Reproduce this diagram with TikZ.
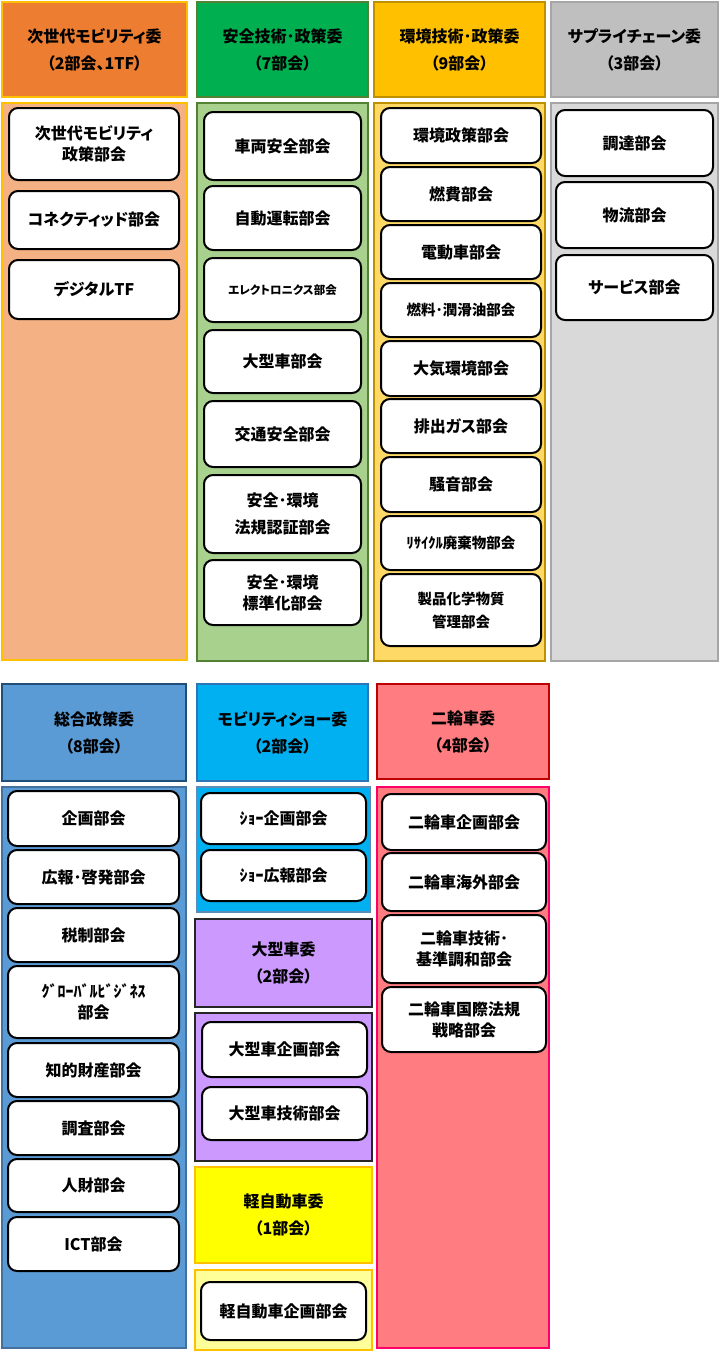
\documentclass[tikz,border=0pt]{standalone}
\usepackage{fontspec}
\setmainfont{Noto Sans CJK JP}[RawFeature=+palt]
\usepackage{xcolor}
\usepackage{tikz}
\definecolor{orgH}{HTML}{ED7D31}
\definecolor{orgB}{HTML}{F4B183}
\definecolor{orgL}{HTML}{FFC000}
\definecolor{grnH}{HTML}{00B050}
\definecolor{grnB}{HTML}{A9D18E}
\definecolor{grnL}{HTML}{548235}
\definecolor{ylwH}{HTML}{FFC000}
\definecolor{ylwB}{HTML}{FFD966}
\definecolor{ylwL}{HTML}{BF9000}
\definecolor{gryH}{HTML}{BFBFBF}
\definecolor{gryB}{HTML}{D9D9D9}
\definecolor{gryL}{HTML}{A6A6A6}
\definecolor{bluH}{HTML}{5B9BD5}
\definecolor{bluL}{HTML}{1F4E79}
\definecolor{bluBL}{HTML}{41719C}
\definecolor{cyaH}{HTML}{00B0F0}
\definecolor{cyaL}{HTML}{2E75B6}
\definecolor{cyaBL}{HTML}{5B8DB8}
\definecolor{purH}{HTML}{CC99FF}
\definecolor{purL}{HTML}{262626}
\definecolor{keiH}{HTML}{FFFF00}
\definecolor{keiB}{HTML}{FFFF99}
\definecolor{keiL}{HTML}{FFC000}
\definecolor{pnkH}{HTML}{FF7C80}
\definecolor{pnkL}{HTML}{C00000}
\definecolor{pnkBL}{HTML}{FF0066}
\tikzset{
  comhead/.style={draw, line width=1.8pt, align=center, inner sep=0pt,
    font=\fontsize{16}{27}\selectfont\bfseries},
  companel/.style={draw, line width=1.6pt, inner sep=0pt},
  sub/.style={draw=black, fill=white, line width=2pt, rounded corners=9pt,
    align=center, inner sep=0pt},
  lab/.style={font=\fontsize{16}{21}\selectfont\bfseries},
  labs/.style={font=\fontsize{14.5}{23}\selectfont\bfseries},
  labx/.style={font=\fontsize{11.5}{14}\selectfont\bfseries},
}
\begin{document}
\begin{tikzpicture}[x=1pt,y=-1pt]
  \useasboundingbox (0,0) rectangle (720,1354);

  % upper row: headers and panels
  \node[comhead, fill=orgH, draw=orgL, minimum width=185, minimum height=95] (hnext) at (94.5,49.5) {次世代モビリティ委\\（2部会、1TF）};
  \node[companel, fill=orgB, draw=orgL, minimum width=185, minimum height=557] (pnext) at (94.5,381.5) {};
  \node[comhead, fill=grnH, draw=grnL, minimum width=171, minimum height=95] (hsafe) at (282.5,49.5) {安全技術･政策委\\（7部会）};
  \node[companel, fill=grnB, draw=grnL, minimum width=171, minimum height=558] (psafe) at (282.5,382) {};
  \node[comhead, fill=ylwH, draw=ylwL, minimum width=171, minimum height=95] (henv) at (459.5,49.5) {環境技術･政策委\\（9部会）};
  \node[companel, fill=ylwB, draw=ylwL, minimum width=171, minimum height=558] (penv) at (459.5,382) {};
  \node[comhead, fill=gryH, draw=gryL, minimum width=167, minimum height=95] (hsup) at (634.5,49.5) {サプライチェーン委\\（3部会）};
  \node[companel, fill=gryB, draw=gryL, minimum width=167, minimum height=558] (psup) at (634.5,382) {};

  % upper row: sub committees
  \foreach \n/\y/\h/\f/\t in {1/144/72/lab/{次世代モビリティ\\政策部会},
    2/220/58/lab/{コネクティッド部会}, 3/289.5/59/lab/{デジタルTF}}{
    \node[sub, \f, minimum width=170, minimum height=\h] (a\n) at (94,\y) {\t};
  }
  \foreach \n/\y/\h/\f/\t in {1/146/68/lab/{車両安全部会}, 2/218/64/lab/{自動運転部会},
    3/290/64/labx/{エレクトロニクス部会}, 4/361.5/63/lab/{大型車部会},
    5/434/66/lab/{交通安全部会}, 6/514/78/lab/{安全･環境\\[6pt]法規認証部会},
    7/592.5/65/lab/{安全･環境\\標準化部会}}{
    \node[sub, \f, minimum width=157, minimum height=\h] (b\n) at (282.5,\y) {\t};
  }
  \foreach \n/\y/\h/\f/\t in {1/135.5/55/lab/{環境政策部会}, 2/194/54/lab/{燃費部会},
    3/252/54/lab/{電動車部会}, 4/310/54/labs/{燃料･潤滑油部会},
    5/368.5/55/lab/{大気環境部会}, 6/426/54/lab/{排出ガス部会},
    7/484.5/55/lab/{騒音部会}, 8/543/54/labs/{ﾘｻｲｸﾙ廃棄物部会},
    9/610/72/labs/{製品化学物質\\管理部会}}{
    \node[sub, \f, minimum width=160, minimum height=\h] (c\n) at (461,\y) {\t};
  }
  \foreach \n/\y/\h/\f/\t in {1/143/66/lab/{調達部会}, 2/215/66/lab/{物流部会},
    3/287.5/65/lab/{サービス部会}}{
    \node[sub, \f, minimum width=157, minimum height=\h] (d\n) at (634.5,\y) {\t};
  }

  % lower row: headers and panels
  \node[comhead, fill=bluH, draw=bluL, minimum width=184, minimum height=97] (hpol) at (94,732.5) {総合政策委\\（8部会）};
  \node[companel, fill=bluH, draw=bluBL, minimum width=184, minimum height=561] (ppol) at (94,1067.5) {};
  \node[comhead, fill=cyaH, draw=cyaL, minimum width=171, minimum height=97] (hshow) at (282.5,732.5) {モビリティショー委\\（2部会）};
  \node[companel, fill=cyaH, draw=cyaBL, minimum width=173, minimum height=125] (pshow) at (283.5,849.5) {};
  \node[comhead, fill=purH, draw=purL, line width=2.2pt, minimum width=177, minimum height=88] (hbig) at (283.5,963) {大型車委\\（2部会）};
  \node[companel, fill=purH, draw=purL, line width=2.2pt, minimum width=177, minimum height=148] (pbig) at (283.5,1087) {};
  \node[comhead, fill=keiH, draw=keiL, minimum width=177, minimum height=96] (hkei) at (283.5,1215) {軽自動車委\\（1部会）};
  \node[companel, fill=keiB, draw=keiL, minimum width=177, minimum height=80] (pkei) at (283.5,1310) {};
  \node[comhead, fill=pnkH, draw=pnkL, minimum width=172, minimum height=95] (hmoto) at (463,731.5) {二輪車委\\（4部会）};
  \node[companel, fill=pnkH, draw=pnkBL, minimum width=172, minimum height=561] (pmoto) at (463,1067.5) {};

  % lower row: sub committees
  \foreach \n/\y/\h/\f/\t in {1/818.5/55/lab/{企画部会}, 2/877/54/lab/{広報･啓発部会},
    3/935/54/lab/{税制部会}, 4/1002/72/lab/{ｸﾞﾛｰﾊﾞﾙﾋﾞｼﾞﾈｽ\\部会},
    5/1070/54/lab/{知的財産部会}, 6/1128/54/lab/{調査部会},
    7/1185.5/53/lab/{人財部会}, 8/1244/54/lab/{ICT部会}}{
    \node[sub, \f, minimum width=171, minimum height=\h] (e\n) at (93.5,\y) {\t};
  }
  \foreach \n/\y/\t in {1/818.5/{ｼｮｰ企画部会}, 2/875.5/{ｼｮｰ広報部会}}{
    \node[sub, lab, minimum width=165, minimum height=51] (f\n) at (283.5,\y) {\t};
  }
  \foreach \n/\y/\h/\t in {1/1049.5/55/{大型車企画部会}, 2/1113.5/53/{大型車技術部会}}{
    \node[sub, lab, minimum width=165, minimum height=\h] (g\n) at (284.5,\y) {\t};
  }
  \node[sub, lab, minimum width=165, minimum height=58] (k1) at (283.5,1311) {軽自動車企画部会};
  \foreach \n/\y/\h/\t in {1/822/56/{二輪車企画部会}, 2/882/58/{二輪車海外部会},
    3/949/68/{二輪車技術･\\基準調和部会}, 4/1019.5/65/{二輪車国際法規\\戦略部会}}{
    \node[sub, lab, minimum width=164, minimum height=\h] (m\n) at (464,\y) {\t};
  }
\end{tikzpicture}
\end{document}
